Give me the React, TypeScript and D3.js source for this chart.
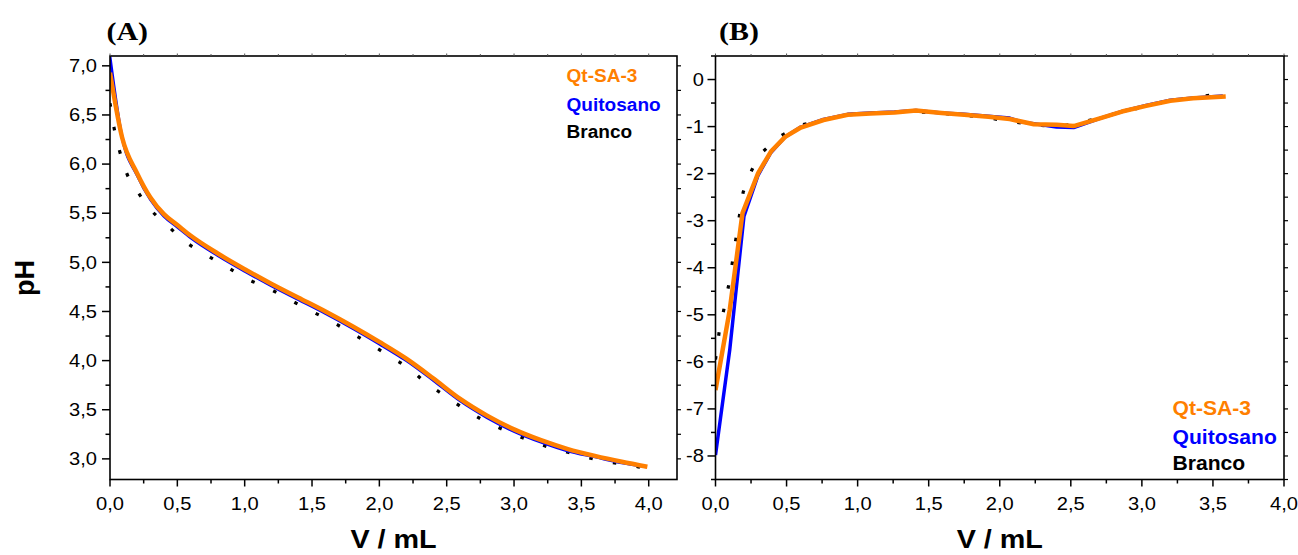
import React from "react";
import * as d3 from "d3";

// ---------- Panel A data ----------
const vA_Qt = [0, 0.09, 0.2, 0.3, 0.4, 0.5, 0.6, 0.8, 1.0, 1.2, 1.4, 1.6, 1.8, 2.0, 2.2, 2.4, 2.6, 2.8, 3.0, 3.2, 3.4, 3.6, 3.8, 3.99];
const pHA_Qt = [6.93, 6.27, 5.91, 5.66, 5.49, 5.38, 5.27, 5.09, 4.93, 4.78, 4.64, 4.50, 4.35, 4.19, 4.02, 3.82, 3.61, 3.44, 3.30, 3.19, 3.10, 3.03, 2.97, 2.92];
const vA_Qui = [0, 0.09, 0.2, 0.3, 0.4, 0.5, 0.6, 0.8, 1.0, 1.2, 1.4, 1.6, 1.8, 2.0, 2.2, 2.4, 2.6, 2.8, 3.0, 3.2, 3.4, 3.6, 3.8, 3.98];
const pHA_Qui = [7.09, 6.27, 5.89, 5.64, 5.47, 5.36, 5.25, 5.07, 4.91, 4.76, 4.62, 4.48, 4.33, 4.17, 4.00, 3.80, 3.59, 3.42, 3.28, 3.17, 3.08, 3.02, 2.96, 2.92];
const vA_Br = [0, 0.03, 0.07, 0.12, 0.2, 0.3, 0.43, 0.56, 0.71, 0.86, 1.02, 1.17, 1.32, 1.47, 1.63, 1.78, 1.93, 2.07, 2.22, 2.35, 2.49, 2.64, 2.79, 2.95, 3.11, 3.28, 3.45, 3.62, 3.79, 3.96];
const pHA_Br = [6.62, 6.37, 6.14, 5.92, 5.73, 5.54, 5.37, 5.21, 5.08, 4.96, 4.83, 4.74, 4.63, 4.52, 4.41, 4.29, 4.17, 4.05, 3.92, 3.77, 3.64, 3.50, 3.38, 3.28, 3.19, 3.11, 3.05, 2.99, 2.95, 2.91];

// ---------- Panel B data ----------
const vB_Qt = [0, 0.1, 0.19, 0.3, 0.39, 0.49, 0.6, 0.76, 0.93, 1.09, 1.26, 1.41, 1.59, 1.75, 1.92, 2.07, 2.24, 2.40, 2.52, 2.71, 2.86, 3.03, 3.20, 3.36, 3.59];
const yB_Qt = [-6.6, -4.9, -2.84, -1.99, -1.53, -1.22, -1.02, -0.86, -0.75, -0.72, -0.70, -0.66, -0.71, -0.75, -0.79, -0.84, -0.95, -0.96, -0.99, -0.82, -0.68, -0.56, -0.45, -0.40, -0.36];
const vB_Qui = [0, 0.1, 0.2, 0.3, 0.39, 0.49, 0.6, 0.76, 0.93, 1.09, 1.26, 1.41, 1.59, 1.75, 1.92, 2.07, 2.15, 2.40, 2.52, 2.71, 2.86, 3.03, 3.20, 3.36, 3.57];
const yB_Qui = [-7.98, -5.75, -2.91, -2.03, -1.55, -1.22, -1.01, -0.85, -0.74, -0.71, -0.69, -0.66, -0.71, -0.74, -0.78, -0.82, -0.90, -1.01, -1.02, -0.82, -0.68, -0.55, -0.44, -0.39, -0.35];
const vB_Br = [0, 0.028, 0.063, 0.094, 0.12, 0.145, 0.169, 0.195, 0.256, 0.32, 0.45, 0.60, 0.76, 0.93, 1.09, 1.26, 1.42, 1.59, 1.75, 1.91, 2.07, 2.24, 2.40, 2.56, 2.72, 2.88, 3.04, 3.20, 3.37, 3.53];
const yB_Br = [-5.95, -5.31, -4.83, -4.35, -3.86, -3.36, -2.88, -2.39, -1.92, -1.57, -1.21, -0.97, -0.86, -0.75, -0.72, -0.70, -0.69, -0.72, -0.76, -0.81, -0.89, -0.96, -1.00, -0.93, -0.79, -0.68, -0.56, -0.45, -0.38, -0.31];

// ---------- Ticks / labels ----------
const xTicksMajor = [0, 0.5, 1.0, 1.5, 2.0, 2.5, 3.0, 3.5, 4.0];
const xTicksMinor = [0.25, 0.75, 1.25, 1.75, 2.25, 2.75, 3.25, 3.75];
const yTicksA = [3.0, 3.5, 4.0, 4.5, 5.0, 5.5, 6.0, 6.5, 7.0];
const yMinorA = [3.25, 3.75, 4.25, 4.75, 5.25, 5.75, 6.25, 6.75];
const yTicksB = [-8, -7, -6, -5, -4, -3, -2, -1, 0];
const yMinorB = [-8.5, -7.5, -6.5, -5.5, -4.5, -3.5, -2.5, -1.5, -0.5, 0.5];
const legendLabels = ["Qt-SA-3", "Quitosano", "Branco"];
const colors = ["#FF7F00", "#0000FF", "#000000"];

const fmt1 = (v: number) => v.toFixed(1).replace(".", ",");
const fmt0 = (v: number) => (v < 0 ? "-" + Math.abs(v) : String(v));

const SANS = "Arial, 'Liberation Sans', sans-serif";
const SERIF = "'Times New Roman', 'Liberation Serif', serif";

function SText(props: { x: number; y: number; sx?: number; size: number; anchor?: string; weight?: string | number; fill?: string; family?: string; rotate?: number; children: any }) {
  const { x, y, sx = 1, size, anchor = "start", weight = "normal", fill = "#000", family = SANS, rotate = 0, children } = props;
  return (
    <text
      transform={`translate(${x},${y}) rotate(${rotate}) scale(${sx},1)`}
      fontSize={size}
      textAnchor={anchor}
      fontWeight={weight}
      fill={fill}
      fontFamily={family}
    >
      {children}
    </text>
  );
}

type PanelProps = {
  x0: number; x1: number; y0: number; y1: number;
  xMax: number; yDomain: [number, number];
  yTicks: number[]; yMinor: number[]; yFmt: (v: number) => string; yLabelX: number;
  series: { v: number[]; y: number[]; color: string; width: number; dash?: string }[];
  curve: any;
  title: string; titleX: number;
  legendX: number; legendY: number[]; legendSize: number;
};

function Panel(p: PanelProps) {
  const xs = d3.scaleLinear().domain([0, p.xMax]).range([p.x0, p.x1]);
  const ys = d3.scaleLinear().domain(p.yDomain).range([p.y1, p.y0]);
  const line = d3.line<[number, number]>().x((d) => xs(d[0])).y((d) => ys(d[1])).curve(p.curve);
  return (
    <g>
      <defs>
        <clipPath id={"clip" + p.title}>
          <rect x={p.x0} y={p.y0} width={p.x1 - p.x0} height={p.y1 - p.y0} />
        </clipPath>
      </defs>
      <g clipPath={`url(#clip${p.title})`}>
        {p.series.map((s, i) => (
          <path
            key={i}
            d={line(s.v.map((v, j) => [v, s.y[j]] as [number, number])) || ""}
            fill="none"
            stroke={s.color}
            strokeWidth={s.width}
            strokeDasharray={s.dash}
            strokeLinejoin="round"
          />
        ))}
      </g>
      {/* frame */}
      <rect x={p.x0} y={p.y0} width={p.x1 - p.x0} height={p.y1 - p.y0} fill="none" stroke="#000" strokeWidth={1.6} />
      {/* bottom ticks */}
      {xTicksMajor.map((t) => (
        <g key={"xm" + t}>
          <line x1={xs(t)} x2={xs(t)} y1={p.y1} y2={p.y1 + 7} stroke="#000" strokeWidth={1.5} />
          <line x1={xs(t)} x2={xs(t)} y1={p.y0} y2={p.y0 - 2.5} stroke="#555" strokeWidth={1} />
          <SText x={xs(t)} y={509.5} size={17.5} sx={1.15} anchor="middle">{fmt1(t)}</SText>
        </g>
      ))}
      {xTicksMinor.map((t) => (
        <g key={"xn" + t}>
          <line x1={xs(t)} x2={xs(t)} y1={p.y1} y2={p.y1 + 4} stroke="#000" strokeWidth={1.5} />
          <line x1={xs(t)} x2={xs(t)} y1={p.y0} y2={p.y0 - 2} stroke="#555" strokeWidth={1} />
        </g>
      ))}
      {/* left ticks */}
      {p.yTicks.map((t) => (
        <g key={"ym" + t}>
          <line x1={p.x0} x2={p.x0 - 8} y1={ys(t)} y2={ys(t)} stroke="#000" strokeWidth={1.5} />
          <line x1={p.x1} x2={p.x1 + 4} y1={ys(t)} y2={ys(t)} stroke="#000" strokeWidth={1.2} />
          <SText x={p.yLabelX} y={ys(t) + 6.2} size={17.5} sx={1.15} anchor="end">{p.yFmt(t)}</SText>
        </g>
      ))}
      {p.yMinor.map((t) => (
        <g key={"yn" + t}>
          <line x1={p.x0} x2={p.x0 - 4.5} y1={ys(t)} y2={ys(t)} stroke="#000" strokeWidth={1.5} />
          <line x1={p.x1} x2={p.x1 + 4} y1={ys(t)} y2={ys(t)} stroke="#000" strokeWidth={1.2} />
        </g>
      ))}
      {/* title */}
      <SText x={p.titleX} y={40} size={26} sx={1.15} weight="bold" family={SERIF}>{`(${p.title})`}</SText>
      {/* x label */}
      <SText x={(p.x0 + p.x1) / 2} y={548} size={25} sx={1.15} weight="bold" anchor="middle">V / mL</SText>
      {/* legend */}
      {legendLabels.map((l, i) => (
        <SText key={l} x={p.legendX} y={p.legendY[i]} size={p.legendSize} sx={1.03} weight="bold" fill={colors[i]}>{l}</SText>
      ))}
    </g>
  );
}

export default function App() {
  return (
    <svg width={1298} height={555} style={{ position: "absolute", left: 0, top: 0, background: "#fff" }}>
      <rect x={0} y={0} width={1298} height={555} fill="#fff" />
      <Panel
        x0={110} x1={677} y0={56} y1={479.5}
        xMax={4.21} yDomain={[2.79, 7.1]}
        yTicks={yTicksA} yMinor={yMinorA} yFmt={fmt1} yLabelX={97}
        curve={d3.curveMonotoneX}
        series={[
          { v: vA_Br, y: pHA_Br, color: colors[2], width: 3.2, dash: "3.5 20.5" },
          { v: vA_Qui, y: pHA_Qui, color: colors[1], width: 3 },
          { v: vA_Qt, y: pHA_Qt, color: colors[0], width: 4.5 },
        ]}
        title="A" titleX={106.5}
        legendX={566.5} legendY={[82.3, 110.6, 137.6]} legendSize={18.5}
      />
      <Panel
        x0={715.5} x1={1284} y0={56} y1={479.5}
        xMax={4} yDomain={[-8.5, 0.5]}
        yTicks={yTicksB} yMinor={yMinorB} yFmt={fmt0} yLabelX={704}
        curve={d3.curveLinear}
        series={[
          { v: vB_Br, y: yB_Br, color: colors[2], width: 3.2, dash: "3.5 20.5" },
          { v: vB_Qui, y: yB_Qui, color: colors[1], width: 3.5 },
          { v: vB_Qt, y: yB_Qt, color: colors[0], width: 4.5 },
        ]}
        title="B" titleX={719}
        legendX={1172.5} legendY={[415.3, 444, 470.3]} legendSize={20.5}
      />
      <SText x={34} y={278} size={27} weight="bold" anchor="middle" rotate={-90}>pH</SText>
    </svg>
  );
}
